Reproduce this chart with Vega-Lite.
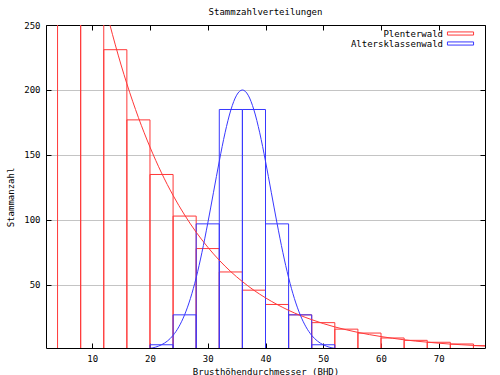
{
  "$schema": "https://vega.github.io/schema/vega-lite/v6.json",
  "width": 439,
  "height": 323,
  "autosize": {"type": "none"},
  "padding": {"left": 46, "top": 25, "right": 15, "bottom": 27},
  "background": "white",
  "title": {"text": "Stammzahlverteilungen", "font": "DejaVu Sans Mono", "fontSize": 9, "fontWeight": "normal", "color": "black", "anchor": "middle", "baseline": "alphabetic", "offset": -3},
  "config": {"view": {"stroke": null}, "font": "DejaVu Sans Mono"},
  "datasets": {
    "bars": [
      {"s": "Plenterwald", "x0": 4, "x1": 8, "n": 403},
      {"s": "Plenterwald", "x0": 8, "x1": 12, "n": 308},
      {"s": "Plenterwald", "x0": 12, "x1": 16, "n": 231},
      {"s": "Plenterwald", "x0": 16, "x1": 20, "n": 177},
      {"s": "Plenterwald", "x0": 20, "x1": 24, "n": 135},
      {"s": "Plenterwald", "x0": 24, "x1": 28, "n": 103},
      {"s": "Plenterwald", "x0": 28, "x1": 32, "n": 78},
      {"s": "Plenterwald", "x0": 32, "x1": 36, "n": 60},
      {"s": "Plenterwald", "x0": 36, "x1": 40, "n": 46},
      {"s": "Plenterwald", "x0": 40, "x1": 44, "n": 35},
      {"s": "Plenterwald", "x0": 44, "x1": 48, "n": 27},
      {"s": "Plenterwald", "x0": 48, "x1": 52, "n": 21},
      {"s": "Plenterwald", "x0": 52, "x1": 56, "n": 16},
      {"s": "Plenterwald", "x0": 56, "x1": 60, "n": 13},
      {"s": "Plenterwald", "x0": 60, "x1": 64, "n": 9.2},
      {"s": "Plenterwald", "x0": 64, "x1": 68, "n": 7.4},
      {"s": "Plenterwald", "x0": 68, "x1": 72, "n": 5.9},
      {"s": "Plenterwald", "x0": 72, "x1": 76, "n": 4.6},
      {"s": "Plenterwald", "x0": 76, "x1": 80, "n": 3.3},
      {"s": "Altersklassenwald", "x0": 20, "x1": 24, "n": 4},
      {"s": "Altersklassenwald", "x0": 24, "x1": 28, "n": 27},
      {"s": "Altersklassenwald", "x0": 28, "x1": 32, "n": 97},
      {"s": "Altersklassenwald", "x0": 32, "x1": 36, "n": 185},
      {"s": "Altersklassenwald", "x0": 36, "x1": 40, "n": 185},
      {"s": "Altersklassenwald", "x0": 40, "x1": 44, "n": 97},
      {"s": "Altersklassenwald", "x0": 44, "x1": 48, "n": 27},
      {"s": "Altersklassenwald", "x0": 48, "x1": 52, "n": 4}
    ],
    "curves": [
      {"s": "Plenterwald", "x": 2, "n": 530.7},
      {"s": "Plenterwald", "x": 4, "n": 463.2},
      {"s": "Plenterwald", "x": 6, "n": 404.3},
      {"s": "Plenterwald", "x": 8, "n": 352.9},
      {"s": "Plenterwald", "x": 10, "n": 308.0},
      {"s": "Plenterwald", "x": 12, "n": 268.9},
      {"s": "Plenterwald", "x": 14, "n": 234.7},
      {"s": "Plenterwald", "x": 16, "n": 204.8},
      {"s": "Plenterwald", "x": 18, "n": 178.8},
      {"s": "Plenterwald", "x": 20, "n": 156.1},
      {"s": "Plenterwald", "x": 22, "n": 136.2},
      {"s": "Plenterwald", "x": 24, "n": 118.9},
      {"s": "Plenterwald", "x": 26, "n": 103.8},
      {"s": "Plenterwald", "x": 28, "n": 90.6},
      {"s": "Plenterwald", "x": 30, "n": 79.1},
      {"s": "Plenterwald", "x": 32, "n": 69.0},
      {"s": "Plenterwald", "x": 34, "n": 60.2},
      {"s": "Plenterwald", "x": 36, "n": 52.6},
      {"s": "Plenterwald", "x": 38, "n": 45.9},
      {"s": "Plenterwald", "x": 40, "n": 40.1},
      {"s": "Plenterwald", "x": 42, "n": 35.0},
      {"s": "Plenterwald", "x": 44, "n": 30.5},
      {"s": "Plenterwald", "x": 46, "n": 26.6},
      {"s": "Plenterwald", "x": 48, "n": 23.3},
      {"s": "Plenterwald", "x": 50, "n": 20.3},
      {"s": "Plenterwald", "x": 52, "n": 17.7},
      {"s": "Plenterwald", "x": 54, "n": 15.5},
      {"s": "Plenterwald", "x": 56, "n": 13.5},
      {"s": "Plenterwald", "x": 58, "n": 11.8},
      {"s": "Plenterwald", "x": 60, "n": 10.3},
      {"s": "Plenterwald", "x": 62, "n": 9.0},
      {"s": "Plenterwald", "x": 64, "n": 7.8},
      {"s": "Plenterwald", "x": 66, "n": 6.8},
      {"s": "Plenterwald", "x": 68, "n": 6.0},
      {"s": "Plenterwald", "x": 70, "n": 5.2},
      {"s": "Plenterwald", "x": 72, "n": 4.5},
      {"s": "Plenterwald", "x": 74, "n": 4.0},
      {"s": "Plenterwald", "x": 76, "n": 3.5},
      {"s": "Plenterwald", "x": 78, "n": 3.0},
      {"s": "Altersklassenwald", "x": 20, "n": 1.2},
      {"s": "Altersklassenwald", "x": 21, "n": 2.2},
      {"s": "Altersklassenwald", "x": 22, "n": 4.0},
      {"s": "Altersklassenwald", "x": 23, "n": 6.8},
      {"s": "Altersklassenwald", "x": 24, "n": 11.2},
      {"s": "Altersklassenwald", "x": 25, "n": 17.8},
      {"s": "Altersklassenwald", "x": 26, "n": 27.1},
      {"s": "Altersklassenwald", "x": 27, "n": 39.6},
      {"s": "Altersklassenwald", "x": 28, "n": 55.6},
      {"s": "Altersklassenwald", "x": 29, "n": 75.1},
      {"s": "Altersklassenwald", "x": 30, "n": 97.4},
      {"s": "Altersklassenwald", "x": 31, "n": 121.3},
      {"s": "Altersklassenwald", "x": 32, "n": 145.2},
      {"s": "Altersklassenwald", "x": 33, "n": 167.1},
      {"s": "Altersklassenwald", "x": 34, "n": 184.6},
      {"s": "Altersklassenwald", "x": 35, "n": 196.0},
      {"s": "Altersklassenwald", "x": 36, "n": 200.0},
      {"s": "Altersklassenwald", "x": 37, "n": 196.0},
      {"s": "Altersklassenwald", "x": 38, "n": 184.6},
      {"s": "Altersklassenwald", "x": 39, "n": 167.1},
      {"s": "Altersklassenwald", "x": 40, "n": 145.2},
      {"s": "Altersklassenwald", "x": 41, "n": 121.3},
      {"s": "Altersklassenwald", "x": 42, "n": 97.4},
      {"s": "Altersklassenwald", "x": 43, "n": 75.1},
      {"s": "Altersklassenwald", "x": 44, "n": 55.6},
      {"s": "Altersklassenwald", "x": 45, "n": 39.6},
      {"s": "Altersklassenwald", "x": 46, "n": 27.1},
      {"s": "Altersklassenwald", "x": 47, "n": 17.8},
      {"s": "Altersklassenwald", "x": 48, "n": 11.2},
      {"s": "Altersklassenwald", "x": 49, "n": 6.8},
      {"s": "Altersklassenwald", "x": 50, "n": 4.0},
      {"s": "Altersklassenwald", "x": 51, "n": 2.2},
      {"s": "Altersklassenwald", "x": 52, "n": 1.2}
    ]
  },
  "layer": [
    {
      "data": {"name": "bars"},
      "mark": {"type": "rect", "filled": false, "clip": true, "strokeWidth": 1},
      "encoding": {
        "x": {"field": "x0", "type": "quantitative", "scale": {"domain": [2, 78], "nice": false, "zero": false},
          "axis": {"orient": "bottom", "values": [10, 20, 30, 40, 50, 60, 70], "tickSize": -5, "tickColor": "black", "domainColor": "black", "grid": false,
            "labelFont": "DejaVu Sans Mono", "labelFontSize": 9, "labelColor": "black", "labelPadding": 11,
            "title": "Brusthöhendurchmesser (BHD)", "titleFont": "DejaVu Sans Mono", "titleFontSize": 9, "titleFontWeight": "normal", "titleColor": "black", "titleBaseline": "middle", "titleY": 23}},
        "x2": {"field": "x1"},
        "y": {"field": "n", "type": "quantitative", "scale": {"domain": [1.5, 250], "nice": false, "zero": false},
          "axis": {"orient": "left", "values": [50, 100, 150, 200, 250], "tickSize": -5, "tickColor": "black", "domainColor": "black", "grid": true, "gridColor": "#c4c4c4", "gridWidth": 1,
            "labelFont": "DejaVu Sans Mono", "labelFontSize": 9, "labelColor": "black", "labelPadding": 11,
            "title": "Stammanzahl", "titleFont": "DejaVu Sans Mono", "titleFontSize": 9, "titleFontWeight": "normal", "titleColor": "black", "titleAngle": 270, "titleBaseline": "middle", "titleAlign": "center", "titleX": -36, "titleY": 172}},
        "y2": {"datum": 0},
        "stroke": {"field": "s", "type": "nominal", "sort": ["Plenterwald", "Altersklassenwald"],
          "scale": {"domain": ["Plenterwald", "Altersklassenwald"], "range": ["#ff3838", "#3838ff"]},
          "legend": {"orient": "none", "legendX": 409.5, "legendY": 3.5, "title": null, "symbolType": "M-2.9,-0.35H2.9V0.35H-2.9Z", "symbolSize": 81, "symbolStrokeWidth": 1, "symbolFillColor": "transparent",
            "labelAlign": "right", "labelOffset": -22.5, "labelFont": "DejaVu Sans Mono", "labelFontSize": 9, "labelColor": "black", "rowPadding": 0, "padding": 0}}
      }
    },
    {
      "data": {"name": "curves"},
      "mark": {"type": "line", "clip": true, "strokeWidth": 1, "interpolate": "monotone"},
      "encoding": {
        "x": {"field": "x", "type": "quantitative",
          "axis": {"orient": "top", "values": [10, 20, 30, 40, 50, 60, 70], "tickSize": -5, "tickColor": "black", "domainColor": "black", "grid": false, "labels": false, "title": null}},
        "y": {"field": "n", "type": "quantitative",
          "axis": {"orient": "right", "values": [50, 100, 150, 200, 250], "tickSize": -5, "tickColor": "black", "domainColor": "black", "grid": false, "labels": false, "title": null}},
        "stroke": {"field": "s", "type": "nominal", "legend": null}
      }
    }
  ],
  "resolve": {"axis": {"x": "independent", "y": "independent"}}
}
